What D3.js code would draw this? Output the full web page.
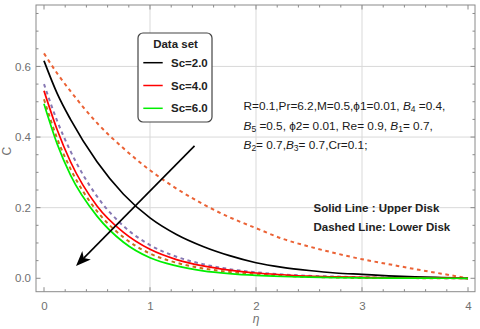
<!DOCTYPE html>
<html>
<head>
<meta charset="utf-8">
<script src="https://cdn.jsdelivr.net/npm/d3@7"></script>
<style>
body { margin: 0; background: #fff; }
text { font-family: "Liberation Sans", Arial, sans-serif; }
</style>
</head>
<body>
<script>
// eta grid
var eta = [0, 0.125, 0.25, 0.5, 0.75, 1, 1.25, 1.5, 1.75, 2, 2.25, 2.5, 2.75, 3, 3.25, 3.5, 3.75, 4];

// solid lines (upper disk)
var sc2Upper = [0.616, 0.523, 0.45, 0.33, 0.238, 0.171, 0.124, 0.09, 0.064, 0.044, 0.031, 0.022, 0.015, 0.011, 0.007, 0.004, 0.002, 0];
var sc4Upper = [0.531, 0.42, 0.33, 0.205, 0.13, 0.082, 0.053, 0.035, 0.023, 0.015, 0.01, 0.006, 0.004, 0.0025, 0.0015, 0.001, 0.0005, 0];
var sc6Upper = [0.494, 0.38, 0.292, 0.176, 0.102, 0.058, 0.035, 0.021, 0.013, 0.008, 0.005, 0.003, 0.002, 0.001, 0.0006, 0.0003, 0.0001, 0];

// dashed lines (lower disk)
var sc2Lower = [0.637, 0.58, 0.53, 0.44, 0.368, 0.306, 0.254, 0.21, 0.173, 0.142, 0.112, 0.09, 0.071, 0.054, 0.04, 0.026, 0.013, 0];
var sc4Lower = [0.55, 0.445, 0.36, 0.232, 0.148, 0.094, 0.061, 0.04, 0.026, 0.017, 0.011, 0.007, 0.005, 0.003, 0.002, 0.001, 0.0005, 0];
var sc6Lower = [0.507, 0.395, 0.31, 0.19, 0.116, 0.07, 0.044, 0.028, 0.018, 0.011, 0.007, 0.004, 0.0025, 0.0015, 0.001, 0.0005, 0.0002, 0];

var xTicks = [0, 1, 2, 3, 4];
var yTicks = [0, 0.2, 0.4, 0.6];
var legendTitle = "Data set";
var legendLabels = ["Sc=2.0", "Sc=4.0", "Sc=6.0"];
var legendColors = ["#000000", "#ff0000", "#00ee00"];

var width = 480, height = 329;
var frame = {left: 36, right: 475, top: 5, bottom: 291.7};

var svg = d3.select("body").append("svg")
    .attr("width", width)
    .attr("height", height);

var x = d3.scaleLinear().domain([-0.0755, 4.066]).range([frame.left, frame.right]);
var y = d3.scaleLinear().domain([-0.038, 0.774]).range([frame.bottom, frame.top]);

// grid lines
svg.append("g").selectAll("line")
    .data([1, 2, 3])
    .enter().append("line")
    .attr("x1", function(d) { return x(d); })
    .attr("x2", function(d) { return x(d); })
    .attr("y1", frame.top)
    .attr("y2", frame.bottom)
    .attr("stroke", "#d9d9d9")
    .attr("stroke-width", 1);

svg.append("g").selectAll("line")
    .data([0.2, 0.4, 0.6])
    .enter().append("line")
    .attr("x1", frame.left)
    .attr("x2", frame.right)
    .attr("y1", function(d) { return y(d); })
    .attr("y2", function(d) { return y(d); })
    .attr("stroke", "#d9d9d9")
    .attr("stroke-width", 1);

// frame with inward ticks on all sides
var xMinor = d3.range(0, 4.001, 0.2).filter(function(v) { return Math.abs(v - Math.round(v)) > 0.01; });
var yMinor = d3.range(0, 0.751, 0.05).filter(function(v) { return Math.abs(v * 5 - Math.round(v * 5)) > 0.01; });

svg.append("g")
    .attr("transform", "translate(0," + frame.bottom + ")")
    .call(d3.axisBottom(x).tickValues(xTicks).tickSize(0).tickPadding(10).tickFormat(d3.format("d")));
svg.append("g")
    .attr("transform", "translate(" + frame.left + ",0)")
    .call(d3.axisLeft(y).tickValues(yTicks).tickSize(0).tickPadding(5).tickFormat(d3.format(".1f")));

svg.selectAll(".domain").remove();
svg.selectAll(".tick text")
    .attr("fill", "#707070")
    .style("font-size", "11.5px")
    .style("font-family", "'Liberation Sans', Arial, sans-serif");

var tickG = svg.append("g").attr("stroke", "#8a8a8a").attr("stroke-width", 1);
function xTick(v, len) {
    tickG.append("line").attr("x1", x(v)).attr("x2", x(v)).attr("y1", frame.bottom).attr("y2", frame.bottom - len);
    tickG.append("line").attr("x1", x(v)).attr("x2", x(v)).attr("y1", frame.top).attr("y2", frame.top + len);
}
function yTick(v, len) {
    tickG.append("line").attr("y1", y(v)).attr("y2", y(v)).attr("x1", frame.left).attr("x2", frame.left + len);
    tickG.append("line").attr("y1", y(v)).attr("y2", y(v)).attr("x1", frame.right).attr("x2", frame.right - len);
}
xTicks.forEach(function(v) { xTick(v, 4.5); });
xMinor.forEach(function(v) { xTick(v, 2.5); });
yTicks.forEach(function(v) { yTick(v, 4.5); });
yMinor.forEach(function(v) { yTick(v, 2.5); });

svg.append("rect")
    .attr("x", frame.left).attr("y", frame.top)
    .attr("width", frame.right - frame.left).attr("height", frame.bottom - frame.top)
    .attr("fill", "none").attr("stroke", "#8a8a8a").attr("stroke-width", 1);

// axis titles
svg.append("text")
    .attr("x", x(2)).attr("y", 323)
    .attr("text-anchor", "middle")
    .attr("fill", "#707070")
    .style("font-size", "12px").style("font-style", "italic")
    .text("η");
svg.append("text")
    .attr("transform", "translate(11," + y(0.36) + ") rotate(-90)")
    .attr("text-anchor", "middle")
    .attr("fill", "#707070")
    .style("font-size", "12px")
    .text("C");

// curves
var line = d3.line()
    .x(function(d) { return x(d[0]); })
    .y(function(d) { return y(d[1]); })
    .curve(d3.curveMonotoneX);

function zipEta(vals) { return eta.map(function(e, i) { return [e, vals[i]]; }); }

var series = [
    {vals: sc2Lower, color: "#eb6235", dash: "3.6,3.6", w: 2},
    {vals: sc4Lower, color: "#8778b3", dash: "3.6,3.6", w: 2},
    {vals: sc6Lower, color: "#c56e1a", dash: "3.6,3.6", w: 2},
    {vals: sc2Upper, color: "#000000", dash: null, w: 1.7},
    {vals: sc4Upper, color: "#ff0000", dash: null, w: 1.7},
    {vals: sc6Upper, color: "#00ee00", dash: null, w: 1.7}
];

svg.append("g").selectAll("path")
    .data(series)
    .enter().append("path")
    .attr("d", function(d) { return line(zipEta(d.vals)); })
    .attr("fill", "none")
    .attr("stroke", function(d) { return d.color; })
    .attr("stroke-width", function(d) { return d.w; })
    .attr("stroke-dasharray", function(d) { return d.dash; });

// arrow (data coordinates)
var arrowFrom = [1.42, 0.375];
var arrowTo = [0.302, 0.035];
var ax1 = x(arrowFrom[0]), ay1 = y(arrowFrom[1]);
var ax2 = x(arrowTo[0]), ay2 = y(arrowTo[1]);
var ang = Math.atan2(ay2 - ay1, ax2 - ax1);
var headLen = 15, headW = 6;
var bx = ax2 - headLen * Math.cos(ang), by = ay2 - headLen * Math.sin(ang);
svg.append("line")
    .attr("x1", ax1).attr("y1", ay1)
    .attr("x2", bx + 4 * Math.cos(ang)).attr("y2", by + 4 * Math.sin(ang))
    .attr("stroke", "#000").attr("stroke-width", 1.6);
var notchX = ax2 - (headLen - 4) * Math.cos(ang), notchY = ay2 - (headLen - 4) * Math.sin(ang);
svg.append("path")
    .attr("d", "M" + ax2 + "," + ay2 +
        "L" + (bx - headW * Math.sin(ang)) + "," + (by + headW * Math.cos(ang)) +
        "L" + notchX + "," + notchY +
        "L" + (bx + headW * Math.sin(ang)) + "," + (by - headW * Math.cos(ang)) + "Z")
    .attr("fill", "#000");

// legend
var lg = svg.append("g");
lg.append("rect")
    .attr("x", 138).attr("y", 33)
    .attr("width", 74).attr("height", 89)
    .attr("rx", 5).attr("ry", 5)
    .attr("fill", "#fff").attr("stroke", "#444").attr("stroke-width", 1.2);
lg.append("text")
    .attr("x", 175.5).attr("y", 48)
    .attr("text-anchor", "middle")
    .style("font-size", "11.5px").style("font-weight", "bold")
    .attr("fill", "#222")
    .text(legendTitle);
legendLabels.forEach(function(lab, i) {
    var ly = 62.7 + i * 22.8;
    lg.append("line")
        .attr("x1", 143.3).attr("x2", 162.7)
        .attr("y1", ly).attr("y2", ly)
        .attr("stroke", legendColors[i]).attr("stroke-width", 1.5);
    lg.append("text")
        .attr("x", 171).attr("y", ly + 4)
        .style("font-size", "11.5px").style("font-weight", "bold")
        .attr("fill", "#222")
        .text(lab);
});

// parameter annotation
var ann = svg.append("g").style("font-size", "11.8px").attr("fill", "#1a1a1a");
function addLine(yy, parts) {
    var t = ann.append("text").attr("x", 243.5).attr("y", yy);
    parts.forEach(function(p) {
        var s = t.append("tspan").text(p[0]);
        if (p[1] === "i") s.style("font-style", "italic");
        if (p[1] === "sub") s.attr("baseline-shift", "-25%").style("font-size", "8.5px");
    });
}
addLine(110, [["R=0.1,Pr=6.2,M=0.5,ϕ1=0.01, "], ["B", "i"], ["4", "sub"], [" =0.4,"]]);
addLine(129.5, [["B", "i"], ["5", "sub"], [" =0.5, ϕ2= 0.01,  Re= 0.9, "], ["B", "i"], ["1", "sub"], ["= 0.7,"]]);
addLine(149, [["B", "i"], ["2", "sub"], ["= 0.7,"], ["B", "i"], ["3", "sub"], ["= 0.7,Cr=0.1;"]]);

svg.append("text")
    .attr("x", 313.5).attr("y", 212)
    .style("font-size", "11.5px").style("font-weight", "bold").attr("fill", "#222")
    .text("Solid Line : Upper Disk");
svg.append("text")
    .attr("x", 313.5).attr("y", 230.5)
    .style("font-size", "11.5px").style("font-weight", "bold").attr("fill", "#222")
    .text("Dashed Line: Lower Disk");
</script>
</body>
</html>
